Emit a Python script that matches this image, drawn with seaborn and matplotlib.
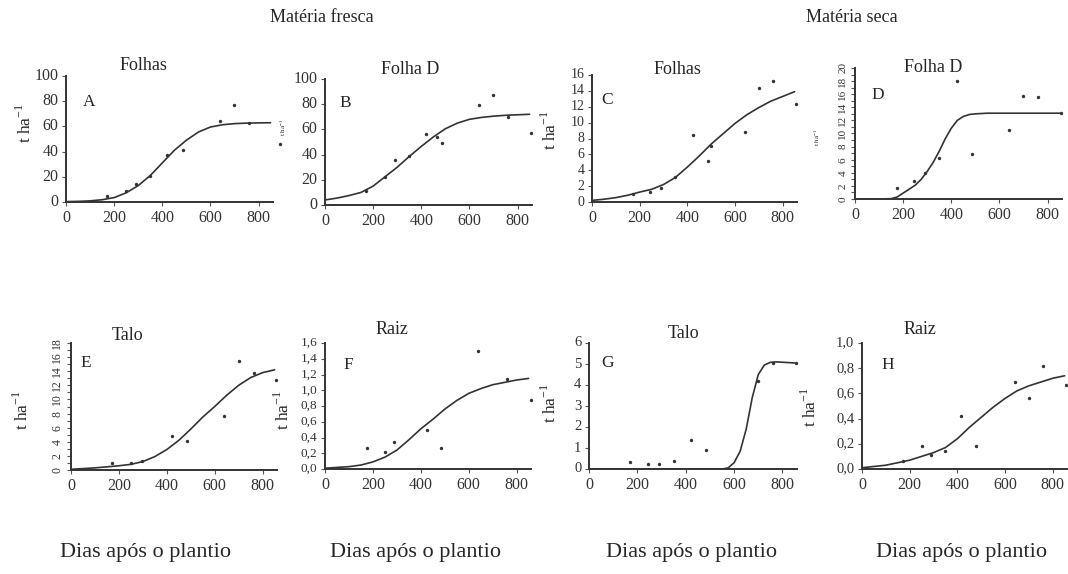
import matplotlib
matplotlib.use("Agg")
import matplotlib.pyplot as plt
import seaborn as sns

dias_a = [170, 250, 290, 350, 420, 485, 640, 700, 760, 890]
obs_a = [4.5, 9, 14, 21, 37, 41, 64, 77, 63, 46]
dias_b = [170, 250, 290, 350, 420, 465, 485, 640, 700, 760, 855]
obs_b = [11.5, 22, 36, 39, 56, 54, 49, 79, 87, 70, 57]
dias_c = [170, 245, 290, 350, 425, 485, 500, 640, 700, 760, 855]
obs_c = [1.0, 1.3, 1.8, 3.1, 8.4, 5.2, 7.0, 8.8, 14.4, 15.2, 12.3]
dias_d = [175, 245, 290, 350, 425, 485, 640, 700, 760, 855]
obs_d = [1.7, 2.7, 3.9, 6.3, 18.0, 6.8, 10.6, 15.8, 15.6, 13.1]
dias_e = [170, 250, 295, 420, 485, 640, 700, 765, 855]
obs_e = [1.0, 0.95, 1.3, 4.8, 4.1, 7.7, 15.5, 13.7, 12.8]
dias_f = [175, 250, 290, 425, 485, 640, 760, 860]
obs_f = [0.27, 0.21, 0.34, 0.49, 0.27, 1.50, 1.14, 0.88]
dias_g = [170, 245, 290, 350, 420, 485, 700, 760, 855]
obs_g = [0.32, 0.25, 0.25, 0.40, 1.40, 0.92, 4.2, 5.05, 5.05]
dias_h = [170, 250, 290, 350, 415, 480, 640, 700, 760, 855]
obs_h = [0.06, 0.18, 0.11, 0.14, 0.42, 0.18, 0.69, 0.56, 0.82, 0.67]

# curvas ajustadas (valores lidos ao longo da curva)
curva_dias = [0, 50, 100, 150, 200, 250, 300, 350, 400, 450, 500, 550, 600, 650, 700, 750, 800, 850]
curva_a = [0.3, 0.5, 0.9, 1.8, 3.5, 7.3, 13, 21, 31, 41, 49, 55.5, 59.5, 61.3, 62.2, 62.6, 62.8, 62.9]
curva_b = [4, 5.5, 7.5, 10, 15, 22.5, 30, 38.5, 46.5, 54, 60.5, 65, 68, 69.5, 70.5, 71.2, 71.6, 72]
curva_c = [0.2, 0.35, 0.55, 0.85, 1.25, 1.6, 2.2, 3.1, 4.4, 5.8, 7.3, 8.6, 9.9, 11.0, 11.9, 12.7, 13.3, 13.9]
curva_e = [0.1, 0.2, 0.3, 0.45, 0.6, 0.8, 1.2, 1.9, 2.9, 4.2, 5.8, 7.5, 9.0, 10.6, 12.0, 13.1, 13.8, 14.2]
curva_f = [0.01, 0.02, 0.03, 0.05, 0.09, 0.15, 0.24, 0.37, 0.51, 0.63, 0.76, 0.87, 0.96, 1.02, 1.07, 1.10, 1.13, 1.15]
curva_h = [0.01, 0.02, 0.03, 0.05, 0.07, 0.1, 0.13, 0.17, 0.24, 0.33, 0.41, 0.49, 0.56, 0.62, 0.66, 0.69, 0.72, 0.74]
curva_dias_d = [0, 100, 150, 175, 200, 225, 250, 275, 300, 325, 350, 375, 400, 425, 450, 475, 500, 550, 850]
curva_d = [0, 0, 0.05, 0.3, 0.9, 1.5, 2.1, 3.0, 4.2, 5.6, 7.3, 9.2, 10.8, 12.0, 12.6, 12.9, 13.0, 13.1, 13.1]
curva_dias_g = [0, 550, 575, 600, 625, 650, 675, 700, 725, 750, 775, 850]
curva_g = [0, 0, 0.05, 0.3, 0.85, 1.9, 3.4, 4.5, 4.95, 5.08, 5.1, 5.05]

xticks = [0, 200, 400, 600, 800]

sns.set_theme(style="ticks")
plt.rcParams['font.family'] = ['Liberation Serif', 'DejaVu Serif']
plt.rcParams['mathtext.fontset'] = 'custom'
plt.rcParams['mathtext.rm'] = 'Liberation Serif'

W, H = 1068, 574
fig = plt.figure(figsize=(W / 100, H / 100), dpi=100)
fig.patch.set_facecolor('white')


def caixa(l, t, r, b):
    return [l / W, 1 - b / H, (r - l) / W, (b - t) / H]


def ftxt(x, y, s, **kw):
    fig.text(x / W, 1 - y / H, s, ha='center', va='center', **kw)


def virgula(v):
    return f"{v:.1f}".replace('.', ',')


def inteiro(v):
    return f"{v:g}"


def painel(pos, dias, obs, cdias, cvals, ymax, ystep, fmt=inteiro, rot=0, ysize=10.5, menor=None):
    ax = fig.add_axes(caixa(*pos))
    sns.lineplot(x=cdias, y=cvals, ax=ax, color='#333333', linewidth=1.2)
    sns.scatterplot(x=dias, y=obs, ax=ax, color='#333333', s=6, linewidth=0, clip_on=False)
    ax.set_xlim(0, 860)
    ax.set_ylim(0, ymax)
    ax.set_xticks(xticks, labels=[str(v) for v in xticks], fontsize=11.5)
    n = int(round(ymax / ystep))
    yt = [i * ystep for i in range(n + 1)]
    ax.set_yticks(yt, labels=[fmt(v) for v in yt], fontsize=ysize, rotation=rot,
                  va='center')
    if menor:
        ax.set_yticks([i * menor for i in range(int(ymax / menor) + 1)], minor=True)
    for s in ['top', 'right']:
        ax.spines[s].set_visible(False)
    for s in ['left', 'bottom']:
        ax.spines[s].set_color('#333333')
        ax.spines[s].set_linewidth(1.4)
    ax.tick_params(axis='both', which='both', direction='out', length=3, width=0.8,
                   color='#555555', pad=2.5, labelcolor='#333333')
    ax.set_xlabel('')
    ax.set_ylabel('')
    ax.set_facecolor('white')
    return ax


painel((66, 76, 273, 202), dias_a, obs_a, curva_dias, curva_a, 100, 20, ysize=11.5)
painel((325, 79, 532, 205), dias_b, obs_b, curva_dias, curva_b, 100, 20, ysize=11.5)
painel((592, 75, 797, 202), dias_c, obs_c, curva_dias, curva_c, 16, 2, ysize=10)
painel((855, 68, 1062, 199), dias_d, obs_d, curva_dias_d, curva_d, 20, 2,
       rot=90, ysize=8, menor=1)
painel((71, 343, 277, 470), dias_e, obs_e, curva_dias, curva_e, 18, 2,
       rot=90, ysize=8.5, menor=1)
painel((325, 343, 531, 469), dias_f, obs_f, curva_dias, curva_f, 1.6, 0.2, virgula, ysize=9.5)
painel((589, 343, 797, 469), dias_g, obs_g, curva_dias_g, curva_g, 6, 1)
painel((862, 343, 1067, 469), dias_h, obs_h, curva_dias, curva_h, 1.0, 0.2, virgula)

# títulos gerais
ftxt(322, 18, 'Matéria fresca', fontsize=13)
ftxt(852, 18, 'Matéria seca', fontsize=13)

# títulos dos painéis
for x, y, s in [(143, 66, 'Folhas'), (410, 70, 'Folha D'), (677, 70, 'Folhas'),
                (933, 68, 'Folha D'), (127, 335, 'Talo'), (392, 330, 'Raiz'),
                (683, 333, 'Talo'), (920, 330, 'Raiz')]:
    ftxt(x, y, s, fontsize=13)

# letras
for x, y, s in [(89, 102, 'A'), (345, 103, 'B'), (607, 100, 'C'), (878, 95, 'D'),
                (86, 363, 'E'), (348, 365, 'F'), (608, 363, 'G'), (888, 365, 'H')]:
    ftxt(x, y, s, fontsize=12.5)

rotulo = r't ha$^{\mathregular{-1}}$'
for x, y in [(25, 123), (550, 130), (22, 410), (283, 410), (550, 403), (810, 407)]:
    ftxt(x, y, rotulo, fontsize=12.5, rotation=90)
for x, y in [(283, 127), (817, 137)]:
    ftxt(x, y, rotulo, fontsize=5, rotation=90)

for x in [145, 415, 692, 962]:
    ftxt(x, 552, 'Dias após o plantio', fontsize=16)

fig.savefig('out.png', dpi=100, facecolor='white')
